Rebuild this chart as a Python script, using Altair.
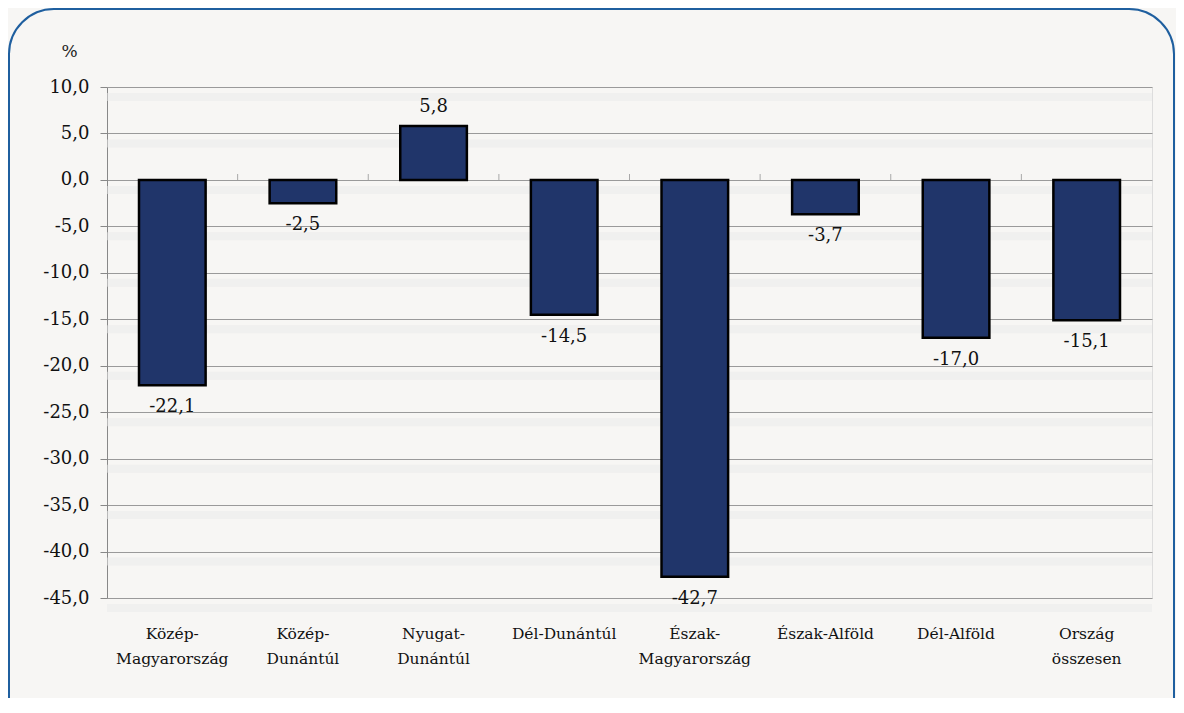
import altair as alt
import pandas as pd

regions = [
    "Közép-\nMagyarország",
    "Közép-\nDunántúl",
    "Nyugat-\nDunántúl",
    "Dél-Dunántúl",
    "Észak-\nMagyarország",
    "Észak-Alföld",
    "Dél-Alföld",
    "Ország\nösszesen",
]
values = [-22.1, -2.5, 5.8, -14.5, -42.7, -3.7, -17.0, -15.1]
y_ticks = [10, 5, 0, -5, -10, -15, -20, -25, -30, -35, -40, -45]

W, H = 1045, 511
BG = "#f7f6f4"
FONT = "DejaVu Serif"
BAR = "#20356a"
GRID = "#9a9a9a"

df = pd.DataFrame({"region": regions, "value": values})
fmt = "replace((datum.value < 0 ? '-' : '') + format(abs(datum.value), '.1f'), '.', ',')"

x_enc = alt.X(
    "region:N",
    sort=regions,
    scale=alt.Scale(paddingInner=0.49, paddingOuter=0.245),
    axis=alt.Axis(
        title=None, labelAngle=0, ticks=False, domain=False, grid=False,
        labelPadding=28, labelFontSize=15.5, labelLineHeight=25,
        labelExpr="split(datum.label, '\\n')", labelColor="#111",
        labelFont=FONT,
    ),
)
y_scale = alt.Scale(domain=[-45, 10], nice=False, zero=False)
y_axis = alt.Axis(
    values=y_ticks, labelExpr=fmt, title="%", titleAngle=0,
    titleX=-38, titleY=-36, titleAlign="center", titleBaseline="middle",
    titleFontSize=17, titleFontWeight="normal", titleFont=FONT, titleColor="#222",
    labelFontSize=18, labelFont=FONT, labelColor="#111", labelPadding=11,
    tickSize=7, tickColor="#888", domainColor="#888", gridColor=GRID,
)

base = alt.Chart(df)

shadow = alt.Chart(pd.DataFrame({"v": y_ticks})).mark_rule(
    color="#e9e9e9", strokeWidth=8, yOffset=10, opacity=0.5
).encode(y=alt.Y("v:Q", scale=y_scale, axis=y_axis), x=alt.value(0), x2=alt.value(W))

bars = base.mark_bar(color=BAR, stroke="black", strokeWidth=2.5).encode(
    x=x_enc,
    y=alt.Y("value:Q", scale=y_scale, axis=y_axis),
    y2=alt.datum(0),
)

sep = alt.Chart(pd.DataFrame({"region": regions[:-1], "z": [0] * 7})).mark_tick(
    orient="vertical", size=6, yOffset=-3, xOffset=W / 16, color="#888", thickness=1
).encode(x=alt.X("region:N", sort=regions), y=alt.Y("z:Q", scale=y_scale))

neg = base.transform_filter("datum.value < 0").transform_calculate(
    lbl=fmt
).mark_text(baseline="top", dy=13, fontSize=18, font=FONT, color="#111").encode(
    x=alt.X("region:N", sort=regions), y=alt.Y("value:Q", scale=y_scale), text="lbl:N"
)
pos = base.transform_filter("datum.value >= 0").transform_calculate(
    lbl=fmt
).mark_text(baseline="bottom", dy=-10, fontSize=18, font=FONT, color="#111").encode(
    x=alt.X("region:N", sort=regions), y=alt.Y("value:Q", scale=y_scale), text="lbl:N"
)

frame = alt.Chart(alt.Data(values=[{}])).mark_rect(
    filled=False, stroke="#1f5f9f", strokeWidth=2, cornerRadius=45
).encode(x=alt.value(-98), x2=alt.value(1067), y=alt.value(-78), y2=alt.value(660))

chart = alt.layer(shadow, bars, sep, neg, pos, frame).properties(
    width=W, height=H,
    autosize=alt.AutoSizeParams(type="none"),
    padding={"left": 99, "top": 79, "right": 24, "bottom": 100},
    background=BG,
).configure_view(stroke="#888", fill=BG).configure_axis(grid=True).configure(font=FONT)

chart.save("out.html", embed_options={"renderer": "svg", "actions": False})
